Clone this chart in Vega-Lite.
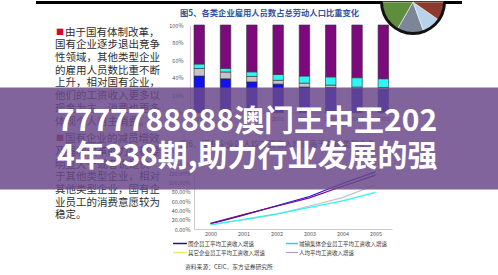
{
  "$schema": "https://vega.github.io/schema/vega-lite/v6.json",
  "background": "white",
  "padding": 0,
  "autosize": {"type": "pad"},
  "bounds": "flush",
  "spacing": 25,
  "config": {
    "view": {"stroke": null},
    "font": "Noto Sans CJK SC",
    "axis": {"labelFont": "Noto Sans CJK SC", "labelColor": "#555555", "labelFontSize": 5.5, "domainColor": "#cccccc", "ticks": false, "grid": false, "title": null, "zindex": 0}
  },
  "hconcat": [
    {
      "width": 110,
      "height": 203.5,
      "data": {"values": [
        {"line": 0, "para": 1, "b": true, "t": "由于国有体制改革，"},
        {"line": 1, "para": 1, "b": false, "t": "国有企业逐步退出竞争"},
        {"line": 2, "para": 1, "b": false, "t": "性领域，其他类型企业"},
        {"line": 3, "para": 1, "b": false, "t": "的雇用人员数比重不断"},
        {"line": 4, "para": 1, "b": false, "t": "上升，相对国有企业，"},
        {"line": 5, "para": 1, "b": false, "t": "他们的工资收入更多以"},
        {"line": 6, "para": 1, "b": false, "t": "现金为主，消费也更多"},
        {"line": 7, "para": 1, "b": false, "t": "体现个人自主消费。"},
        {"line": 8, "para": 2, "b": true, "t": "国有企业的减员增效"},
        {"line": 9, "para": 2, "b": false, "t": "及福利改革的力度都要"},
        {"line": 10, "para": 2, "b": false, "t": "明显大于或者说是快"},
        {"line": 11, "para": 2, "b": false, "t": "于其他类型企业，相对"},
        {"line": 12, "para": 2, "b": false, "t": "其他类型企业，国有企"},
        {"line": 13, "para": 2, "b": false, "t": "业员工的消费意愿较为"},
        {"line": 14, "para": 2, "b": false, "t": "稳定。"}
      ]},
      "encoding": {
        "y": {"field": "line", "type": "quantitative", "scale": {"domain": [-0.606, 15.418], "reverse": true, "nice": false, "zero": false}, "axis": null}
      },
      "layer": [
        {"transform": [{"filter": "datum.para == 1 && !datum.b"}], "mark": {"type": "text", "align": "left", "baseline": "middle", "fontSize": 10.5, "color": "#2e2e2e"}, "encoding": {"x": {"value": 0}, "text": {"field": "t"}}},
        {"transform": [{"filter": "datum.para == 1 && datum.b"}], "mark": {"type": "text", "align": "left", "baseline": "middle", "fontSize": 10.5, "color": "#2e2e2e"}, "encoding": {"x": {"value": 10}, "text": {"field": "t"}}},
        {"transform": [{"filter": "datum.para == 1 && datum.b"}], "mark": {"type": "text", "align": "left", "baseline": "middle", "fontSize": 8, "color": "#c8102e", "text": "■"}, "encoding": {"x": {"value": 1}}},
        {"transform": [{"filter": "datum.para == 2 && !datum.b"}], "mark": {"type": "text", "align": "left", "baseline": "middle", "fontSize": 10.5, "color": "#2e2e2e", "dy": 5}, "encoding": {"x": {"value": 0}, "text": {"field": "t"}}},
        {"transform": [{"filter": "datum.para == 2 && datum.b"}], "mark": {"type": "text", "align": "left", "baseline": "middle", "fontSize": 10.5, "color": "#2e2e2e", "dy": 5}, "encoding": {"x": {"value": 10}, "text": {"field": "t"}}},
        {"transform": [{"filter": "datum.para == 2 && datum.b"}], "mark": {"type": "text", "align": "left", "baseline": "middle", "fontSize": 8, "color": "#c8102e", "text": "■", "dy": 5}, "encoding": {"x": {"value": 1}}}
      ]
    },
    {
      "vconcat": [
        {
          "width": 206,
          "height": 87.5,
          "layer": [
            {"data": {"values": [{}]}, "mark": {"type": "rect", "color": "#000000"}, "encoding": {"x": {"value": -154}, "x2": {"value": 272}, "y": {"value": -24}, "y2": {"value": -21}}},
            {"data": {"values": [{}]}, "mark": {"type": "text", "align": "left", "baseline": "middle", "fontSize": 8.3, "fontWeight": "bold", "color": "#3352a0", "text": "图5、各类企业雇用人员数占总劳动人口比重变化"}, "encoding": {"x": {"value": -10}, "y": {"value": -11}}},
            {
              "data": {"values": [
                {"year": "1998", "cat": "国有企业", "o": 1, "v": 41.7}, {"year": "1998", "cat": "城镇集体企业", "o": 2, "v": 8.6}, {"year": "1998", "cat": "其他企业", "o": 3, "v": 5.1}, {"year": "1998", "cat": "其余劳动力", "o": 4, "v": 44.6},
                {"year": "1999", "cat": "国有企业", "o": 1, "v": 38.6}, {"year": "1999", "cat": "城镇集体企业", "o": 2, "v": 7.7}, {"year": "1999", "cat": "其他企业", "o": 3, "v": 4.2}, {"year": "1999", "cat": "其余劳动力", "o": 4, "v": 49.5},
                {"year": "2000", "cat": "国有企业", "o": 1, "v": 35.0}, {"year": "2000", "cat": "城镇集体企业", "o": 2, "v": 6.2}, {"year": "2000", "cat": "其他企业", "o": 3, "v": 5.3}, {"year": "2000", "cat": "其余劳动力", "o": 4, "v": 53.5},
                {"year": "2001", "cat": "国有企业", "o": 1, "v": 32.5}, {"year": "2001", "cat": "城镇集体企业", "o": 2, "v": 4.3}, {"year": "2001", "cat": "其他企业", "o": 3, "v": 6.7}, {"year": "2001", "cat": "其余劳动力", "o": 4, "v": 56.5},
                {"year": "2002", "cat": "国有企业", "o": 1, "v": 29.1}, {"year": "2002", "cat": "城镇集体企业", "o": 2, "v": 4.5}, {"year": "2002", "cat": "其他企业", "o": 3, "v": 8.1}, {"year": "2002", "cat": "其余劳动力", "o": 4, "v": 58.3},
                {"year": "2003", "cat": "国有企业", "o": 1, "v": 28.5}, {"year": "2003", "cat": "城镇集体企业", "o": 2, "v": 2.8}, {"year": "2003", "cat": "其他企业", "o": 3, "v": 9.4}, {"year": "2003", "cat": "其余劳动力", "o": 4, "v": 59.3},
                {"year": "2004", "cat": "国有企业", "o": 1, "v": 27.2}, {"year": "2004", "cat": "城镇集体企业", "o": 2, "v": 1.9}, {"year": "2004", "cat": "其他企业", "o": 3, "v": 10.7}, {"year": "2004", "cat": "其余劳动力", "o": 4, "v": 60.2},
                {"year": "2005", "cat": "国有企业", "o": 1, "v": 26.3}, {"year": "2005", "cat": "城镇集体企业", "o": 2, "v": 2.3}, {"year": "2005", "cat": "其他企业", "o": 3, "v": 10.0}, {"year": "2005", "cat": "其余劳动力", "o": 4, "v": 61.4}
              ]},
              "mark": {"type": "bar", "stroke": "#303030", "strokeWidth": 0.6},
              "encoding": {
                "x": {"field": "year", "type": "ordinal", "scale": {"paddingInner": 0.6, "paddingOuter": 0.2165, "align": 0.351}, "axis": {"labelAngle": 0, "labelPadding": 4}},
                "y": {"field": "v", "type": "quantitative", "stack": "zero", "scale": {"domain": [0, 100], "nice": false}, "axis": {"values": [0, 20, 40, 60, 80, 100], "labelExpr": "datum.value + '%'", "labelPadding": 7, "domainColor": "#dcc6dc"}},
                "color": {"field": "cat", "type": "nominal", "scale": {"domain": ["国有企业", "城镇集体企业", "其他企业", "其余劳动力"], "range": ["#1212f0", "#c4c4c4", "#2ef5f5", "#7d0a7d"]}, "legend": null},
                "order": {"field": "o", "type": "quantitative"}
              }
            },
            {
              "data": {"values": [{"p": "楼宇", "v": 50}, {"p": "天空", "v": 35}, {"p": "草地", "v": 60}, {"p": "人物", "v": 35}]},
              "mark": {"type": "arc", "outerRadius": 31, "stroke": "#ffffff", "strokeWidth": 0.5},
              "encoding": {
                "x": {"value": 223}, "y": {"value": -23},
                "theta": {"field": "v", "type": "quantitative", "stack": true, "scale": {"range": [1.5708, 4.7124]}},
                "fill": {"field": "p", "type": "nominal", "scale": {"domain": ["楼宇", "天空", "草地", "人物"], "range": ["#7b8796", "#b8d2ea", "#5f8d3e", "#8c3b2c"]}, "legend": null}
              }
            },
            {
              "data": {"values": [{}]},
              "mark": {"type": "arc", "innerRadius": 30, "outerRadius": 33, "color": "#111111", "theta": 1.5708, "theta2": 4.7124},
              "encoding": {"x": {"value": 223}, "y": {"value": -23}}
            }
          ],
          "resolve": {"scale": {"theta": "independent"}}
        },
        {
          "width": 198,
          "height": 65,
          "layer": [
            {"data": {"values": [{}]}, "mark": {"type": "text", "align": "left", "baseline": "middle", "fontSize": 8.3, "color": "#333333", "text": "图6、国有企业的人均工资收入增速高于其他类型企业"}, "encoding": {"x": {"value": -14}, "y": {"value": -19.5}}},
            {"data": {"values": [{}]}, "mark": {"type": "text", "align": "left", "baseline": "middle", "fontSize": 5.8, "color": "#444444", "text": "资料来源：CEIC，东方证券研究所"}, "encoding": {"x": {"value": -9}, "y": {"value": 102.5}}},
            {"data": {"values": [{}]}, "mark": {"type": "rule", "color": "#1f1a7a", "strokeWidth": 1.5}, "encoding": {"x": {"value": -21}, "x2": {"value": -7}, "y": {"value": 79.5}}},
            {"data": {"values": [{}]}, "mark": {"type": "text", "align": "left", "baseline": "middle", "fontSize": 5.5, "color": "#333333", "text": "国企员工平均工资收入增速"}, "encoding": {"x": {"value": -6}, "y": {"value": 79.5}}},
            {"data": {"values": [{}]}, "mark": {"type": "rule", "color": "#3ccad2", "strokeWidth": 1.5}, "encoding": {"x": {"value": 92}, "x2": {"value": 104}, "y": {"value": 79.5}}},
            {"data": {"values": [{}]}, "mark": {"type": "text", "align": "left", "baseline": "middle", "fontSize": 5.5, "color": "#333333", "text": "城镇集体企业员工平均工资收入增速"}, "encoding": {"x": {"value": 105}, "y": {"value": 79.5}}},
            {"data": {"values": [{}]}, "mark": {"type": "rule", "color": "#eeee5c", "strokeWidth": 1.5}, "encoding": {"x": {"value": -21}, "x2": {"value": -7}, "y": {"value": 88.5}}},
            {"data": {"values": [{}]}, "mark": {"type": "text", "align": "left", "baseline": "middle", "fontSize": 5.5, "color": "#333333", "text": "其它企业员工平均工资收入增速"}, "encoding": {"x": {"value": -6}, "y": {"value": 88.5}}},
            {"data": {"values": [{}]}, "mark": {"type": "rule", "color": "#aa9ecb", "strokeWidth": 1.2}, "encoding": {"x": {"value": 92}, "x2": {"value": 104}, "y": {"value": 88.5}}},
            {"data": {"values": [{}]}, "mark": {"type": "text", "align": "left", "baseline": "middle", "fontSize": 5.5, "color": "#333333", "text": "人均平均工资收入增速"}, "encoding": {"x": {"value": 105}, "y": {"value": 88.5}}},
            {
              "data": {"values": [
                {"year": "2000", "s": "国企员工平均工资收入增速", "v": 11}, {"year": "2001", "s": "国企员工平均工资收入增速", "v": 30}, {"year": "2002", "s": "国企员工平均工资收入增速", "v": 50}, {"year": "2003", "s": "国企员工平均工资收入增速", "v": 70}, {"year": "2004", "s": "国企员工平均工资收入增速", "v": 98}, {"year": "2005", "s": "国企员工平均工资收入增速", "v": 123},
                {"year": "2000", "s": "城镇集体企业员工平均工资收入增速", "v": 10}, {"year": "2001", "s": "城镇集体企业员工平均工资收入增速", "v": 19.5}, {"year": "2002", "s": "城镇集体企业员工平均工资收入增速", "v": 31.6}, {"year": "2003", "s": "城镇集体企业员工平均工资收入增速", "v": 49.6}, {"year": "2004", "s": "城镇集体企业员工平均工资收入增速", "v": 67.6}, {"year": "2005", "s": "城镇集体企业员工平均工资收入增速", "v": 95},
                {"year": "2000", "s": "其它企业员工平均工资收入增速", "v": 8.6}, {"year": "2001", "s": "其它企业员工平均工资收入增速", "v": 20.8}, {"year": "2002", "s": "其它企业员工平均工资收入增速", "v": 32.4}, {"year": "2003", "s": "其它企业员工平均工资收入增速", "v": 46.7}, {"year": "2004", "s": "其它企业员工平均工资收入增速", "v": 60.5}, {"year": "2005", "s": "其它企业员工平均工资收入增速", "v": 79},
                {"year": "2000", "s": "人均平均工资收入增速", "v": 12}, {"year": "2001", "s": "人均平均工资收入增速", "v": 31}, {"year": "2002", "s": "人均平均工资收入增速", "v": 49}, {"year": "2003", "s": "人均平均工资收入增速", "v": 67}, {"year": "2004", "s": "人均平均工资收入增速", "v": 92}, {"year": "2005", "s": "人均平均工资收入增速", "v": 116}
              ]},
              "mark": {"type": "line", "strokeWidth": 1.2},
              "encoding": {
                "x": {"field": "year", "type": "ordinal", "scale": {"type": "point", "padding": 0.5}, "axis": {"labelAngle": 0, "labelPadding": 2}},
                "y": {"field": "v", "type": "quantitative", "scale": {"domain": [0, 140], "nice": false}, "axis": {"values": [0, 20, 40, 60, 80, 100, 120, 140], "labelExpr": "format(datum.value, '.2f') + '%'", "labelPadding": 4}},
                "color": {"field": "s", "type": "nominal", "scale": {"domain": ["国企员工平均工资收入增速", "城镇集体企业员工平均工资收入增速", "其它企业员工平均工资收入增速", "人均平均工资收入增速"], "range": ["#1f1a7a", "#3ccad2", "#eeee5c", "#aa9ecb"]}, "legend": null}
              }
            },
            {"data": {"values": [{}]}, "mark": {"type": "rect", "color": "#6a498a", "opacity": 0.85}, "encoding": {"x": {"value": -194}, "x2": {"value": 304}, "y": {"value": -76.5}, "y2": {"value": 25.5}}},
            {"data": {"values": [{}]}, "mark": {"type": "text", "align": "left", "baseline": "alphabetic", "fontSize": 30, "fontWeight": "bold", "color": "#ffffff", "lineHeight": 35, "text": ["7777788888澳门王中王202", "4年338期,助力行业发展的强"]}, "encoding": {"x": {"value": -137}, "y": {"value": -33.5}}}
          ]
        }
      ],
      "spacing": 51,
      "bounds": "flush",
      "center": true
    }
  ]
}
